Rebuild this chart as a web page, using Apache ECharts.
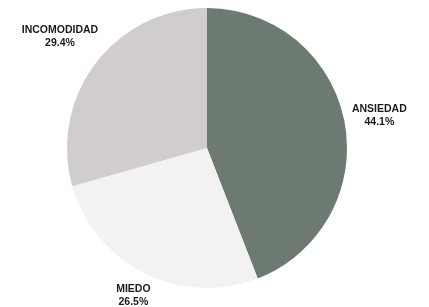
<!DOCTYPE html>
<html lang="es">
<head>
  <meta charset="UTF-8">
  <title>Emociones</title>
  <style>
    html, body { margin: 0; padding: 0; background: #fff; }
    #main { width: 429px; height: 307px; }
  </style>
</head>
<body>
  <div id="main"></div>
  <script src="https://cdn.jsdelivr.net/npm/echarts@6/dist/echarts.min.js"></script>
  <script>
    // datos del grafico
    var categories = ['ANSIEDAD', 'MIEDO', 'INCOMODIDAD'];
    var values = [44.1, 26.5, 29.4];
    var colors = ['#6c7a71', '#f2f2f2', '#d1cdcd'];

    var cx = 207, cy = 148, radius = 140, gap = 6;
    var total = values.reduce(function (a, b) { return a + b; }, 0);

    // angulo medio de cada sector (desde arriba, sentido horario)
    function midAngle(i) {
      var acc = 0;
      for (var k = 0; k < i; k++) acc += values[k];
      return (acc + values[i] / 2) / total * 2 * Math.PI;
    }

    var myChart = echarts.init(document.getElementById('main'));

    var option = {
      animation: false,
      series: [{
        type: 'pie',
        center: [cx, cy],
        radius: radius,
        startAngle: 90,
        clockwise: true,
        avoidLabelOverlap: false,
        data: categories.map(function (name, i) {
          return { name: name, value: values[i], itemStyle: { color: colors[i] } };
        }),
        label: {
          show: true,
          position: 'outside',
          overflow: 'none',
          formatter: function (p) { return p.name + '\n' + p.value.toFixed(1) + '%'; },
          fontFamily: 'Liberation Sans, Arial, sans-serif',
          fontWeight: 'bold',
          fontSize: 10.5,
          lineHeight: 13,
          color: '#1a1a1a',
          align: 'center'
        },
        labelLine: { show: false },
        labelLayout: function (params) {
          var a = midAngle(params.dataIndex);
          var dx = Math.sin(a), dy = -Math.cos(a);
          var w = params.labelRect.width / 2, h = params.labelRect.height / 2;
          var d = radius + gap + Math.abs(dx) * w + Math.abs(dy) * h;
          return {
            x: cx + dx * d,
            y: cy + dy * d,
            align: 'center',
            verticalAlign: 'middle'
          };
        }
      }]
    };

    myChart.setOption(option);
  </script>
</body>
</html>
